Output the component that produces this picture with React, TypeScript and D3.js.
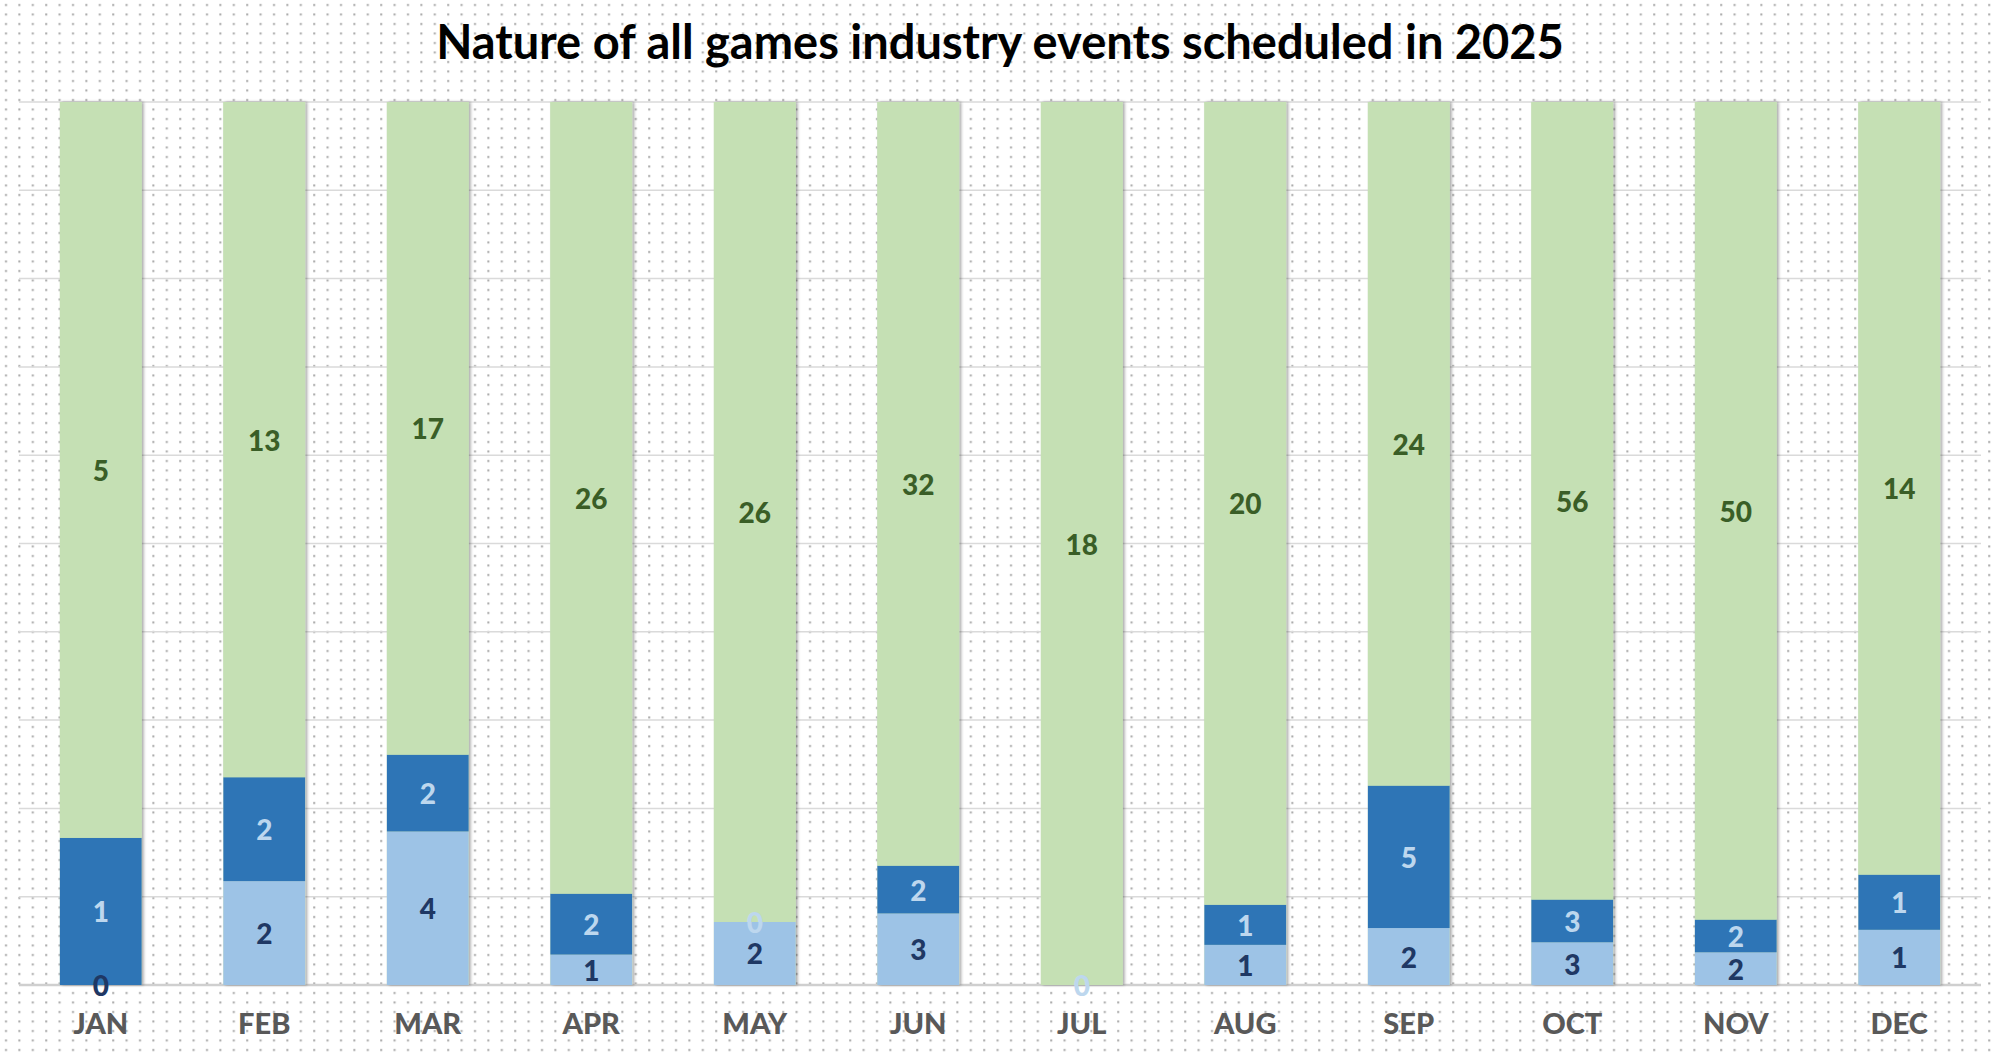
import React, { useEffect, useRef } from 'react';
import * as d3 from 'd3';

const months = ['JAN', 'FEB', 'MAR', 'APR', 'MAY', 'JUN', 'JUL', 'AUG', 'SEP', 'OCT', 'NOV', 'DEC'];
// bottom series (light blue), middle (dark blue), top (green)
const lightValues: (number | null)[] = [0, 2, 4, 1, 2, 3, null, 1, 2, 3, 2, 1];
const darkValues: (number | null)[] = [1, 2, 2, 2, 0, 2, 0, 1, 5, 3, 2, 1];
const greenValues: (number | null)[] = [5, 13, 17, 26, 26, 32, 18, 20, 24, 56, 50, 14];

const seriesKeys = ['light', 'dark', 'green'];
const seriesFill: Record<string, string> = { light: '#9DC3E6', dark: '#2E75B6', green: '#C5E0B4' };
const labelFill: Record<string, string> = { light: '#1F3864', dark: '#BDD7EE', green: '#3A5E27' };

const title = 'Nature of all games industry events scheduled in 2025';

const App: React.FC = () => {
  const svgRef = useRef<SVGSVGElement>(null);

  useEffect(() => {
    if (!svgRef.current) return;
    const svg = d3.select(svgRef.current);
    svg.selectAll('*').remove();

    const width = 2000;
    const height = 1053;
    const margin = { top: 102, right: 19, bottom: 68, left: 19 };

    const rows = months.map((m, i) => ({
      month: m,
      light: lightValues[i],
      dark: darkValues[i],
      green: greenValues[i],
    }));

    const stack = d3.stack<any>()
      .keys(seriesKeys)
      .value((d, k) => d[k] ?? 0)
      .offset(d3.stackOffsetExpand);
    const layers = stack(rows);

    const x = d3.scaleBand()
      .domain(months)
      .range([margin.left, width - margin.right])
      .paddingInner(0.5)
      .paddingOuter(0.25);

    const y = d3.scaleLinear()
      .domain([0, 1])
      .range([height - margin.bottom, margin.top]);

    const defs = svg.append('defs');
    const pat = defs.append('pattern')
      .attr('id', 'dots')
      .attr('patternUnits', 'userSpaceOnUse')
      .attr('width', 13.4)
      .attr('height', 9.5);
    pat.append('rect').attr('width', 13.4).attr('height', 9.5).attr('fill', '#fff');
    pat.append('rect').attr('x', 5).attr('y', 4).attr('width', 2).attr('height', 2).attr('fill', '#a6a6a6');

    const shadow = defs.append('filter').attr('id', 'shadow')
      .attr('x', '-20%').attr('y', '-5%').attr('width', '140%').attr('height', '110%');
    shadow.append('feDropShadow')
      .attr('dx', 2).attr('dy', 0).attr('stdDeviation', 1.5)
      .attr('flood-color', '#000').attr('flood-opacity', 0.35);

    svg.append('rect').attr('width', width).attr('height', height).attr('fill', 'url(#dots)');

    // gridlines
    svg.append('g')
      .selectAll('line')
      .data(d3.range(0, 1.0001, 0.1))
      .join('line')
      .attr('x1', margin.left)
      .attr('x2', width - margin.right)
      .attr('y1', d => y(d))
      .attr('y2', d => y(d))
      .attr('stroke', d => (d === 0 ? '#cfcfcf' : '#dadada'))
      .attr('stroke-width', d => (d === 0 ? 2.5 : 1.5));

    // bars
    const barG = svg.append('g');
    barG.selectAll('rect.bg')
      .data(rows)
      .join('rect')
      .attr('x', d => x(d.month)!)
      .attr('width', x.bandwidth())
      .attr('y', y(1))
      .attr('height', y(0) - y(1))
      .attr('fill', '#C5E0B4')
      .attr('filter', 'url(#shadow)');

    layers.forEach(layer => {
      barG.append('g')
        .selectAll('rect')
        .data(layer)
        .join('rect')
        .attr('x', d => x(d.data.month)!)
        .attr('width', x.bandwidth())
        .attr('y', d => y(d[1]))
        .attr('height', d => Math.max(0, y(d[0]) - y(d[1])))
        .attr('fill', seriesFill[layer.key]);
    });

    // data labels
    layers.forEach(layer => {
      svg.append('g')
        .selectAll('text')
        .data(layer.filter(d => d.data[layer.key] != null))
        .join('text')
        .attr('x', d => x(d.data.month)! + x.bandwidth() / 2)
        .attr('y', d => (y(d[0]) + y(d[1])) / 2)
        .attr('text-anchor', 'middle')
        .attr('dominant-baseline', 'central')
        .attr('font-family', 'Lato, sans-serif')
        .attr('font-weight', 900)
        .attr('font-size', 28)
        .attr('fill', labelFill[layer.key])
        .text(d => String(d.data[layer.key]));
    });

    // month labels
    svg.append('g')
      .selectAll('text')
      .data(months)
      .join('text')
      .attr('x', d => x(d)! + x.bandwidth() / 2)
      .attr('y', 1034)
      .attr('text-anchor', 'middle')
      .attr('font-family', 'Lato, sans-serif')
      .attr('font-weight', 900)
      .attr('font-size', 29)
      .attr('fill', '#595959')
      .text(d => d);

    svg.append('text')
      .attr('x', width / 2)
      .attr('y', 59)
      .attr('text-anchor', 'middle')
      .attr('font-family', 'Lato, sans-serif')
      .attr('font-weight', 700)
      .attr('font-size', 47)
      .attr('fill', '#000')
      .text(title);
  }, []);

  return (
    <svg
      ref={svgRef}
      width={2000}
      height={1053}
      style={{ position: 'absolute', left: 0, top: 0 }}
    />
  );
};

export default App;
